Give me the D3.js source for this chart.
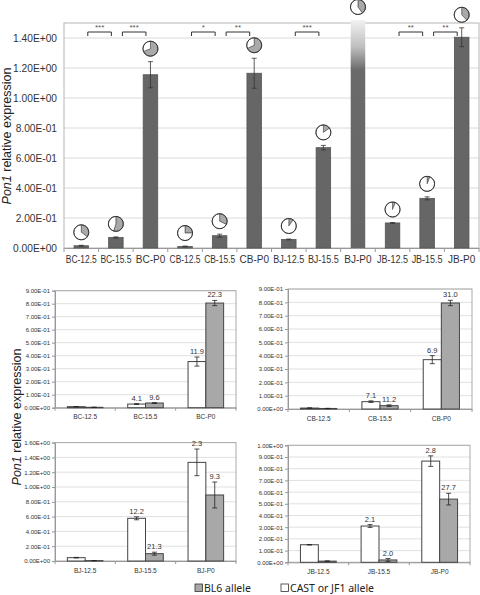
<!DOCTYPE html>
<html><head><meta charset="utf-8">
<script src="https://cdn.jsdelivr.net/npm/d3@7"></script>
<style>
html,body{margin:0;padding:0;background:#fff;}
svg{display:block;font-family:"Liberation Sans",Arial,sans-serif;}
</style></head>
<body>
<svg id="chart" width="480" height="595"></svg>
<script>
// ---------- DATA ----------
const topCategories = ["BC-12.5","BC-15.5","BC-P0","CB-12.5","CB-15.5","CB-P0","BJ-12.5","BJ-15.5","BJ-P0","JB-12.5","JB-15.5","JB-P0"];
const topValues = [0.015, 0.07, 1.155, 0.01, 0.082, 1.165, 0.057, 0.669, 1.52, 0.167, 0.331, 1.405];
const topErrors = [0.003, 0.004, 0.087, 0.003, 0.01, 0.1, 0.003, 0.015, 0, 0.003, 0.01, 0.063];
const topBl6Fraction = [0.35, 0.55, 0.69, 0.25, 0.32, 0.68, 0.1, 0.15, 0.4, 0.06, 0.06, 0.38];
const topTicks = [0, 0.2, 0.4, 0.6, 0.8, 1.0, 1.2, 1.4];
const topTickLabels = ["0.00E+00","2.00E-01","4.00E-01","6.00E-01","8.00E-01","1.00E+00","1.20E+00","1.40E+00"];
const sigFrom = [0, 1, 3, 4, 6, 9, 10];
const sigTo   = [1, 2, 4, 5, 7, 10, 11];
const sigLabels = ["***","***","*","**","***","**","**"];

const bcCategories = ["BC-12.5","BC-15.5","BC-P0"];
const bcWhite = [0.008, 0.028, 0.355];
const bcGray  = [0.003, 0.036, 0.805];
const bcWhiteErr = [0.001, 0.003, 0.035];
const bcGrayErr  = [0.001, 0.003, 0.02];
const bcWhiteLbl = ["", "4.1", "11.9"];
const bcGrayLbl  = ["", "9.6", "22.3"];

const cbCategories = ["CB-12.5","CB-15.5","CB-P0"];
const cbWhite = [0.007, 0.055, 0.37];
const cbGray  = [0.004, 0.025, 0.795];
const cbWhiteErr = [0.001, 0.006, 0.03];
const cbGrayErr  = [0.001, 0.006, 0.02];
const cbWhiteLbl = ["", "7.1", "6.9"];
const cbGrayLbl  = ["", "11.2", "31.0"];

const bjCategories = ["BJ-12.5","BJ-15.5","BJ-P0"];
const bjWhite = [0.045, 0.577, 1.333];
const bjGray  = [0.005, 0.099, 0.892];
const bjWhiteErr = [0.004, 0.02, 0.18];
const bjGrayErr  = [0.001, 0.02, 0.175];
const bjWhiteLbl = ["", "12.2", "2.3"];
const bjGrayLbl  = ["", "21.3", "9.3"];

const jbCategories = ["JB-12.5","JB-15.5","JB-P0"];
const jbWhite = [0.15, 0.31, 0.865];
const jbGray  = [0.01, 0.02, 0.54];
const jbWhiteErr = [0.002, 0.012, 0.045];
const jbGrayErr  = [0.002, 0.012, 0.05];
const jbWhiteLbl = ["", "2.1", "2.8"];
const jbGrayLbl  = ["", "2.0", "27.7"];

const legendLabels = ["BL6 allele", "CAST or JF1 allele"];

// ---------- DRAW ----------
const svg = d3.select("#chart");
const TXT = "#333";
const FONT = "Liberation Sans, Arial, sans-serif";

// ===== Top chart =====
const T = {left: 64, right: 479, top: 23, bottom: 248};
const xT = d3.scaleBand().domain(topCategories).range([T.left, T.right]).paddingInner(0.58).paddingOuter(0.29);
const yT = d3.scaleLinear().domain([0, 1.5]).range([T.bottom, T.top]);
const gT = svg.append("g");

gT.selectAll("line.grid").data(topTicks.slice(1)).join("line")
  .attr("x1", T.left).attr("x2", T.right)
  .attr("y1", d => yT(d)).attr("y2", d => yT(d))
  .attr("stroke", "#dadada").attr("stroke-width", 1);
gT.append("rect").attr("x", T.left).attr("y", T.top).attr("width", T.right - T.left).attr("height", T.bottom - T.top)
  .attr("fill", "none").attr("stroke", "#b5b5b5").attr("stroke-width", 1);

const yAxisT = d3.axisLeft(yT).tickValues(topTicks).tickFormat((d, i) => topTickLabels[i]).tickSize(0).tickPadding(7);
const yaT = gT.append("g").attr("transform", `translate(${T.left},0)`).call(yAxisT);
yaT.select(".domain").remove();
yaT.selectAll("text").attr("font-size", 10.2).attr("fill", TXT).attr("font-family", FONT);

const xAxisT = d3.axisBottom(xT).tickSize(0).tickPadding(8);
const xaT = gT.append("g").attr("transform", `translate(0,${T.bottom})`).call(xAxisT);
xaT.select(".domain").attr("stroke", "#999");
xaT.selectAll("text").attr("font-size", 10).attr("fill", TXT).attr("font-family", FONT)
  .each(function() {
    if (this.getComputedTextLength() > 31) {
      d3.select(this).attr("textLength", 31).attr("lengthAdjust", "spacingAndGlyphs");
    }
  });
const stepT = xT.step();
gT.selectAll("line.xt").data(d3.range(topCategories.length + 1)).join("line")
  .attr("x1", i => T.left + i * stepT).attr("x2", i => T.left + i * stepT)
  .attr("y1", T.bottom).attr("y2", T.bottom + 4).attr("stroke", "#999");

const defs = svg.append("defs");
const grad = defs.append("linearGradient").attr("id", "fade").attr("x1", 0).attr("x2", 0).attr("y1", 0).attr("y2", 1);
grad.append("stop").attr("offset", "0%").attr("stop-color", "#f2f2f2");
grad.append("stop").attr("offset", "12%").attr("stop-color", "#bdbdbd");
grad.append("stop").attr("offset", "22%").attr("stop-color", "#6a6a6a");
grad.append("stop").attr("offset", "100%").attr("stop-color", "#666");

gT.selectAll("rect.bar").data(topValues).join("rect")
  .attr("x", (d, i) => xT(topCategories[i]))
  .attr("width", xT.bandwidth())
  .attr("y", d => yT(d))
  .attr("height", d => yT(0) - yT(d))
  .attr("fill", d => d > 1.5 ? "url(#fade)" : "#666")
  .attr("stroke", d => d > 1.5 ? "none" : "#555").attr("stroke-width", 0.8);

topValues.forEach((v, i) => {
  const e = topErrors[i];
  if (e <= 0) return;
  const cx = xT(topCategories[i]) + xT.bandwidth() / 2;
  const y1 = yT(v + e), y2 = yT(v - e);
  gT.append("line").attr("x1", cx).attr("x2", cx).attr("y1", y1).attr("y2", y2).attr("stroke", "#333").attr("stroke-width", 0.8);
  gT.append("line").attr("x1", cx - 2.5).attr("x2", cx + 2.5).attr("y1", y1).attr("y2", y1).attr("stroke", "#333").attr("stroke-width", 0.8);
  gT.append("line").attr("x1", cx - 2.5).attr("x2", cx + 2.5).attr("y1", y2).attr("y2", y2).attr("stroke", "#333").attr("stroke-width", 0.8);
});

const pie = d3.pie().sort(null).value(d => d);
const arc = d3.arc().innerRadius(0).outerRadius(7.5);
topValues.forEach((v, i) => {
  const cx = xT(topCategories[i]) + xT.bandwidth() / 2;
  const cy = yT(v + topErrors[i]) - 13;
  const f = topBl6Fraction[i];
  const pg = gT.append("g").attr("transform", `translate(${cx},${cy})`);
  pg.selectAll("path").data(pie([f, 1 - f])).join("path")
    .attr("d", arc).attr("fill", (d, j) => j === 0 ? "#a9a9a9" : "#fff")
    .attr("stroke", "#444").attr("stroke-width", 0.6);
  pg.append("circle").attr("r", 7.5).attr("fill", "none").attr("stroke", "#333").attr("stroke-width", 1);
});

sigLabels.forEach((lab, k) => {
  const xa = xT(topCategories[sigFrom[k]]) + xT.bandwidth() / 2 + 6.5;
  const xb = xT(topCategories[sigTo[k]]) + xT.bandwidth() / 2 - 4.5;
  const yb = 32, yl = 36;
  gT.append("path").attr("d", `M${xa},${yl}V${yb}H${xb}V${yl}`).attr("fill", "none").attr("stroke", "#333").attr("stroke-width", 1);
  gT.append("text").attr("x", (xa + xb) / 2).attr("y", 30).attr("text-anchor", "middle")
    .attr("font-size", 8).attr("fill", "#555").text(lab);
});

const ttlT = gT.append("text").attr("transform", `translate(11,136) rotate(-90)`)
  .attr("text-anchor", "middle").attr("font-size", 12.5).attr("fill", "#222").attr("font-family", FONT);
ttlT.append("tspan").attr("font-style", "italic").text("Pon1");
ttlT.append("tspan").text(" relative expression");

// ===== Bottom charts =====
function smallChart(o) {
  const g = svg.append("g");
  const x = d3.scaleBand().domain(o.cats).range([o.left, o.right]).paddingInner(0.41).paddingOuter(0.205);
  const y = d3.scaleLinear().domain([0, o.max]).range([o.bottom, o.top]);
  const ticks = d3.range(0, o.max + o.step / 2, o.step);
  g.selectAll("line.grid").data(ticks.slice(1)).join("line")
    .attr("x1", o.left).attr("x2", o.right).attr("y1", d => y(d)).attr("y2", d => y(d))
    .attr("stroke", "#e0e0e0");
  g.append("rect").attr("x", o.left).attr("y", o.top).attr("width", o.right - o.left).attr("height", o.bottom - o.top)
    .attr("fill", "none").attr("stroke", "#aaa");
  const ya = g.append("g").attr("transform", `translate(${o.left},0)`)
    .call(d3.axisLeft(y).tickValues(ticks).tickFormat(d => d3.format(".2e")(d).replace(/e([+-])(\d)$/, "E$10$2").replace("e", "E")).tickSize(3).tickPadding(2));
  ya.select(".domain").attr("stroke", "#999");
  ya.selectAll(".tick line").attr("stroke", "#999");
  ya.selectAll("text").attr("font-size", 6).attr("fill", TXT).attr("font-family", FONT);
  const xa = g.append("g").attr("transform", `translate(0,${o.bottom})`).call(d3.axisBottom(x).tickSize(0).tickPadding(7));
  xa.select(".domain").attr("stroke", "#999");
  xa.selectAll("text").attr("font-size", 6.5).attr("fill", TXT).attr("font-family", FONT);
  g.selectAll("line.xt").data(d3.range(o.cats.length + 1)).join("line")
    .attr("x1", i => o.left + i * x.step()).attr("x2", i => o.left + i * x.step())
    .attr("y1", o.bottom).attr("y2", o.bottom + 3).attr("stroke", "#999");
  const bw = x.bandwidth() / 2;
  const series = [
    {vals: o.white, errs: o.whiteErr, lbls: o.whiteLbl, fill: "#fff", off: 0},
    {vals: o.gray, errs: o.grayErr, lbls: o.grayLbl, fill: "#a8a8a8", off: bw}
  ];
  series.forEach(s => {
    g.selectAll(null).data(s.vals).join("rect")
      .attr("x", (d, i) => x(o.cats[i]) + s.off).attr("width", bw)
      .attr("y", d => y(d)).attr("height", d => y(0) - y(d))
      .attr("fill", s.fill).attr("stroke", "#444").attr("stroke-width", 1);
    s.vals.forEach((v, i) => {
      const cx = x(o.cats[i]) + s.off + bw / 2;
      const e = s.errs[i];
      const y1 = y(v + e), y2 = y(Math.max(0, v - e));
      g.append("line").attr("x1", cx).attr("x2", cx).attr("y1", y1).attr("y2", y2).attr("stroke", "#222").attr("stroke-width", 0.8);
      [y1, y2].forEach(yy => g.append("line").attr("x1", cx - 2.5).attr("x2", cx + 2.5).attr("y1", yy).attr("y2", yy).attr("stroke", "#222").attr("stroke-width", 0.8));
      if (s.lbls[i]) {
        g.append("text").attr("x", cx).attr("y", y1 - 3).attr("text-anchor", "middle")
          .attr("font-size", 7.5).attr("fill", "#333").attr("font-family", FONT).text(s.lbls[i]);
      }
    });
  });
}

smallChart({cats: bcCategories, white: bcWhite, gray: bcGray, whiteErr: bcWhiteErr, grayErr: bcGrayErr, whiteLbl: bcWhiteLbl, grayLbl: bcGrayLbl,
  left: 55, right: 236, top: 290.7, bottom: 407.7, max: 0.9, step: 0.1});
smallChart({cats: cbCategories, white: cbWhite, gray: cbGray, whiteErr: cbWhiteErr, grayErr: cbGrayErr, whiteLbl: cbWhiteLbl, grayLbl: cbGrayLbl,
  left: 288, right: 472, top: 289, bottom: 409, max: 0.9, step: 0.1});
smallChart({cats: bjCategories, white: bjWhite, gray: bjGray, whiteErr: bjWhiteErr, grayErr: bjGrayErr, whiteLbl: bjWhiteLbl, grayLbl: bjGrayLbl,
  left: 55, right: 236, top: 442.6, bottom: 561, max: 1.6, step: 0.2});
smallChart({cats: jbCategories, white: jbWhite, gray: jbGray, whiteErr: jbWhiteErr, grayErr: jbGrayErr, whiteLbl: jbWhiteLbl, grayLbl: jbGrayLbl,
  left: 288, right: 470, top: 445.3, bottom: 562.3, max: 1.0, step: 0.1});

const ttlB = svg.append("text").attr("transform", `translate(21,417) rotate(-90)`)
  .attr("text-anchor", "middle").attr("font-size", 12.5).attr("fill", "#222").attr("font-family", FONT);
ttlB.append("tspan").attr("font-style", "italic").text("Pon1");
ttlB.append("tspan").text(" relative expression");

const lg = svg.append("g").attr("font-family", "Noto Sans, Open Sans, sans-serif").attr("font-size", 10.5).attr("fill", "#222");
const legFills = ["#a8a8a8", "#fff"];
const legX = [195, 281];
legendLabels.forEach((t, i) => {
  lg.append("rect").attr("x", legX[i]).attr("y", 584).attr("width", 7.5).attr("height", 7.5)
    .attr("fill", legFills[i]).attr("stroke", "#333").attr("stroke-width", 0.8);
  lg.append("text").attr("x", legX[i] + 9).attr("y", 592).text(t);
});
</script>
</body></html>
